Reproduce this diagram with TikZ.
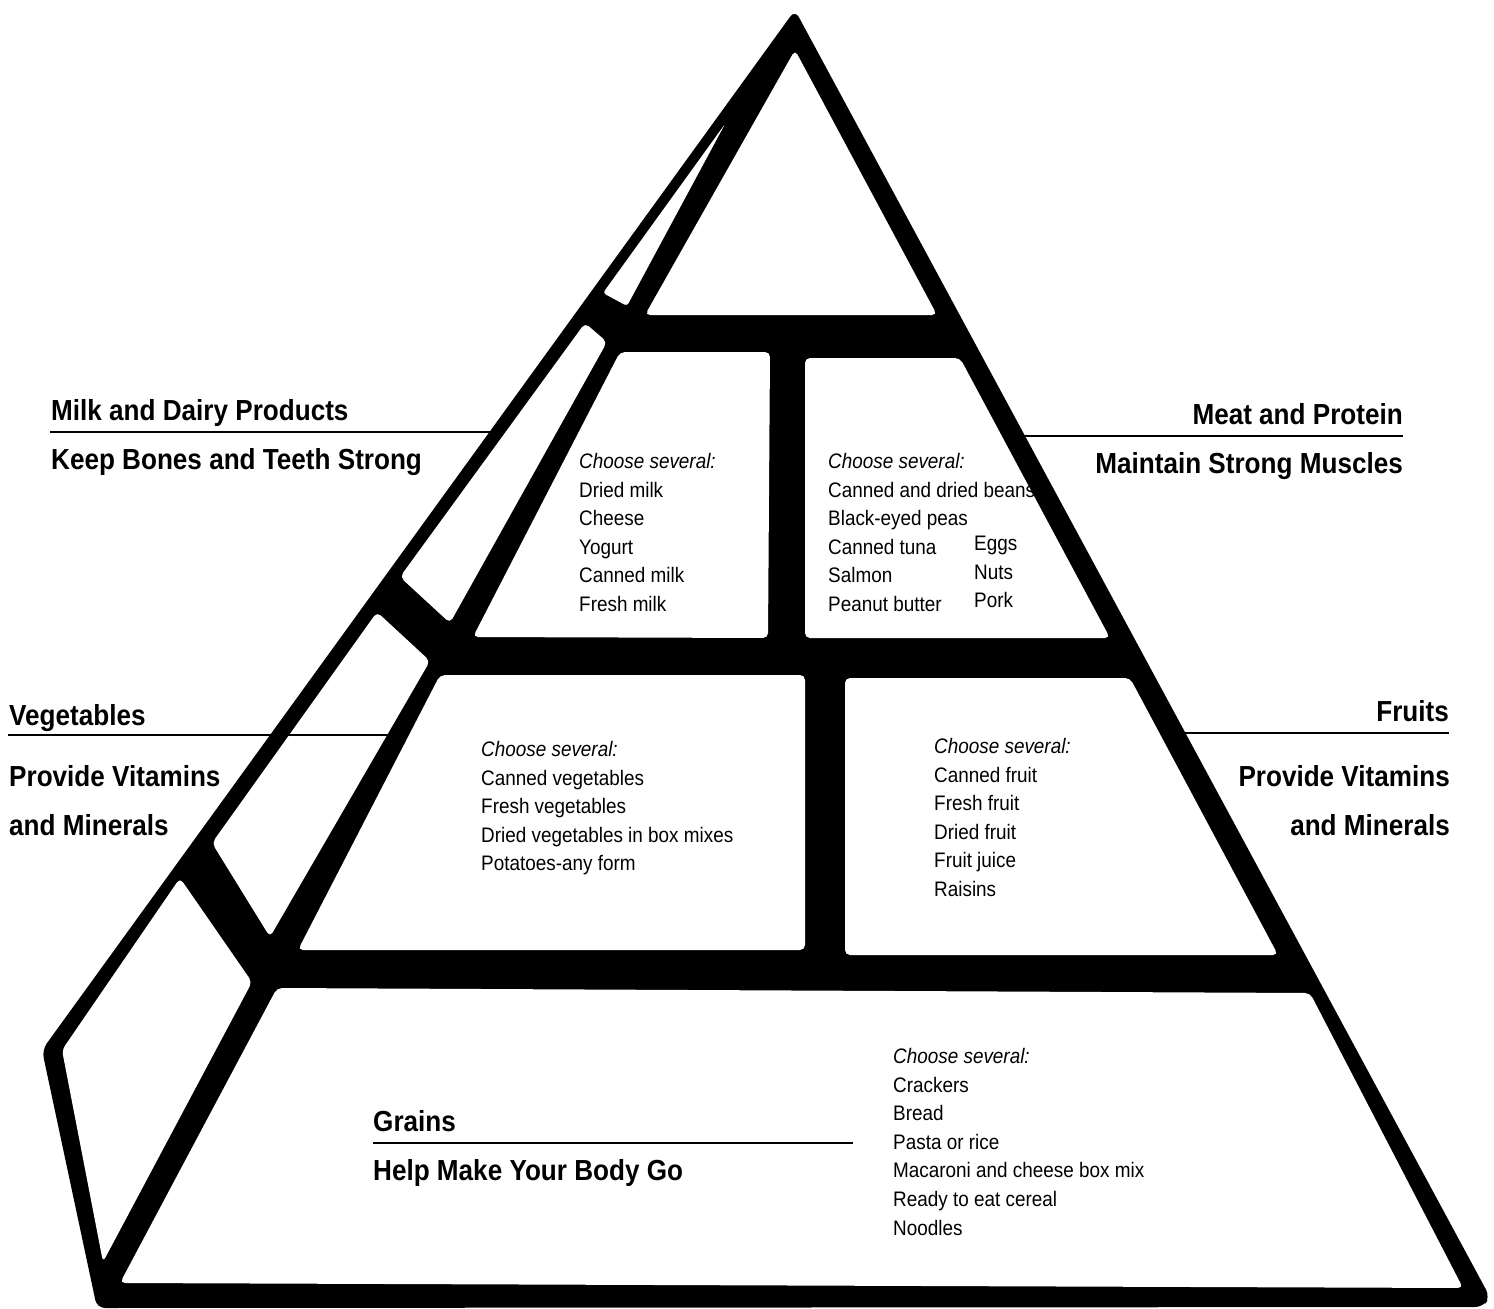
\documentclass[tikz,border=0pt]{standalone}
\usepackage{fontspec}
\setmainfont[FakeStretch=0.9]{Liberation Sans}
\usepackage{tikz}
\tikzset{
    panel/.style={fill=white, rounded corners=5pt},
    rule/.style={line width=2pt},
    head/.style={inner sep=0pt, font=\fontsize{29}{35}\selectfont\bfseries},
    items/.style={inner sep=0pt, align=left, anchor=north west,
        font=\fontsize{21}{28.6}\selectfont}}

\begin{document}
\begin{tikzpicture}[x=1pt, y=-1pt]
\useasboundingbox (0,0) rectangle (1494,1309);

% black frame of the pyramid
\fill[rounded corners=8pt] (795,10) -- (1490,1297) -- (1483,1307) -- (97,1308) -- (42,1050) -- cycle;

% top block and side faces
\fill[panel] (795,50) -- (937,315) -- (645,315) -- cycle;
\fill[panel, rounded corners=3pt] (725,124) -- (627,306) -- (603,293) -- cycle;
\fill[panel] (585,323) -- (607,342) -- (450,623) -- (400,577) -- cycle;
\fill[panel] (377,612) -- (430,661) -- (270,937) -- (212,843) -- cycle;
\fill[panel] (180,878) -- (252,982) -- (103,1262) -- (62,1050) -- cycle;

% front faces
\fill[panel] (620,352) -- (770,352) -- (768,638) -- (473,637) -- cycle;
\fill[panel] (805,358) -- (960,358) -- (1110,638) -- (805,638) -- cycle;
\fill[panel] (440,675) -- (805,675) -- (805,950) -- (298,950) -- cycle;
\fill[panel] (845,678) -- (1130,678) -- (1278,955) -- (845,955) -- cycle;
\fill[panel] (277,988) -- (1310,993) -- (1463,1288) -- (120,1283) -- cycle;

% food lists
\node[items] (milklist) at (579,453) {\textit{Choose several:}\\ Dried milk\\ Cheese\\ Yogurt\\ Canned milk\\ Fresh milk};
\node[items] (meatlist) at (828,453) {\textit{Choose several:}\\ Canned and dried beans\\ Black-eyed peas\\ Canned tuna\\ Salmon\\ Peanut butter};
\node[items] (meatmore) at (974,536) {Eggs\\ Nuts\\ Pork};
\node[items] (veglist) at (481,741) {\textit{Choose several:}\\ Canned vegetables\\ Fresh vegetables\\ Dried vegetables in box mixes\\ Potatoes-any form};
\node[items] (fruitlist) at (934,738) {\textit{Choose several:}\\ Canned fruit\\ Fresh fruit\\ Dried fruit\\ Fruit juice\\ Raisins};
\node[items] (grainlist) at (893,1048) {\textit{Choose several:}\\ Crackers\\ Bread\\ Pasta or rice\\ Macaroni and cheese box mix\\ Ready to eat cereal\\ Noodles};

% group titles
\node[head, anchor=base west] (milkA) at (51,420) {Milk and Dairy Products};
\node[head, anchor=base west] (milkB) at (51,469) {Keep Bones and Teeth Strong};
\node[head, anchor=base east] (meatA) at (1403,424) {Meat and Protein};
\node[head, anchor=base east] (meatB) at (1403,473) {Maintain Strong Muscles};
\node[head, anchor=base west] (vegA) at (9,725) {Vegetables};
\node[head, anchor=base west] (vegB) at (9,786) {Provide Vitamins};
\node[head, anchor=base west] (vegC) at (9,835) {and Minerals};
\node[head, anchor=base east] (fruitA) at (1449,721) {Fruits};
\node[head, anchor=base east] (fruitB) at (1450,786) {Provide Vitamins};
\node[head, anchor=base east] (fruitC) at (1450,835) {and Minerals};
\node[head, anchor=base west] (grainA) at (373,1131) {Grains};
\node[head, anchor=base west] (grainB) at (373,1180) {Help Make Your Body Go};

% rules under the titles
\coordinate (milkL) at (50,432);
\coordinate (milkR) at (490,432);
\coordinate (meatL) at (1022,436);
\coordinate (meatR) at (1403,436);
\coordinate (vegL) at (8,735);
\coordinate (vegR) at (408,735);
\coordinate (fruitL) at (1183,733);
\coordinate (fruitR) at (1449,733);
\coordinate (grainL) at (373,1143);
\coordinate (grainR) at (853,1143);
\draw[rule] (milkL) -- (milkR);
\draw[rule] (meatL) -- (meatR);
\draw[rule] (vegL) -- (vegR);
\draw[rule] (fruitL) -- (fruitR);
\draw[rule] (grainL) -- (grainR);

\end{tikzpicture}
\end{document}
